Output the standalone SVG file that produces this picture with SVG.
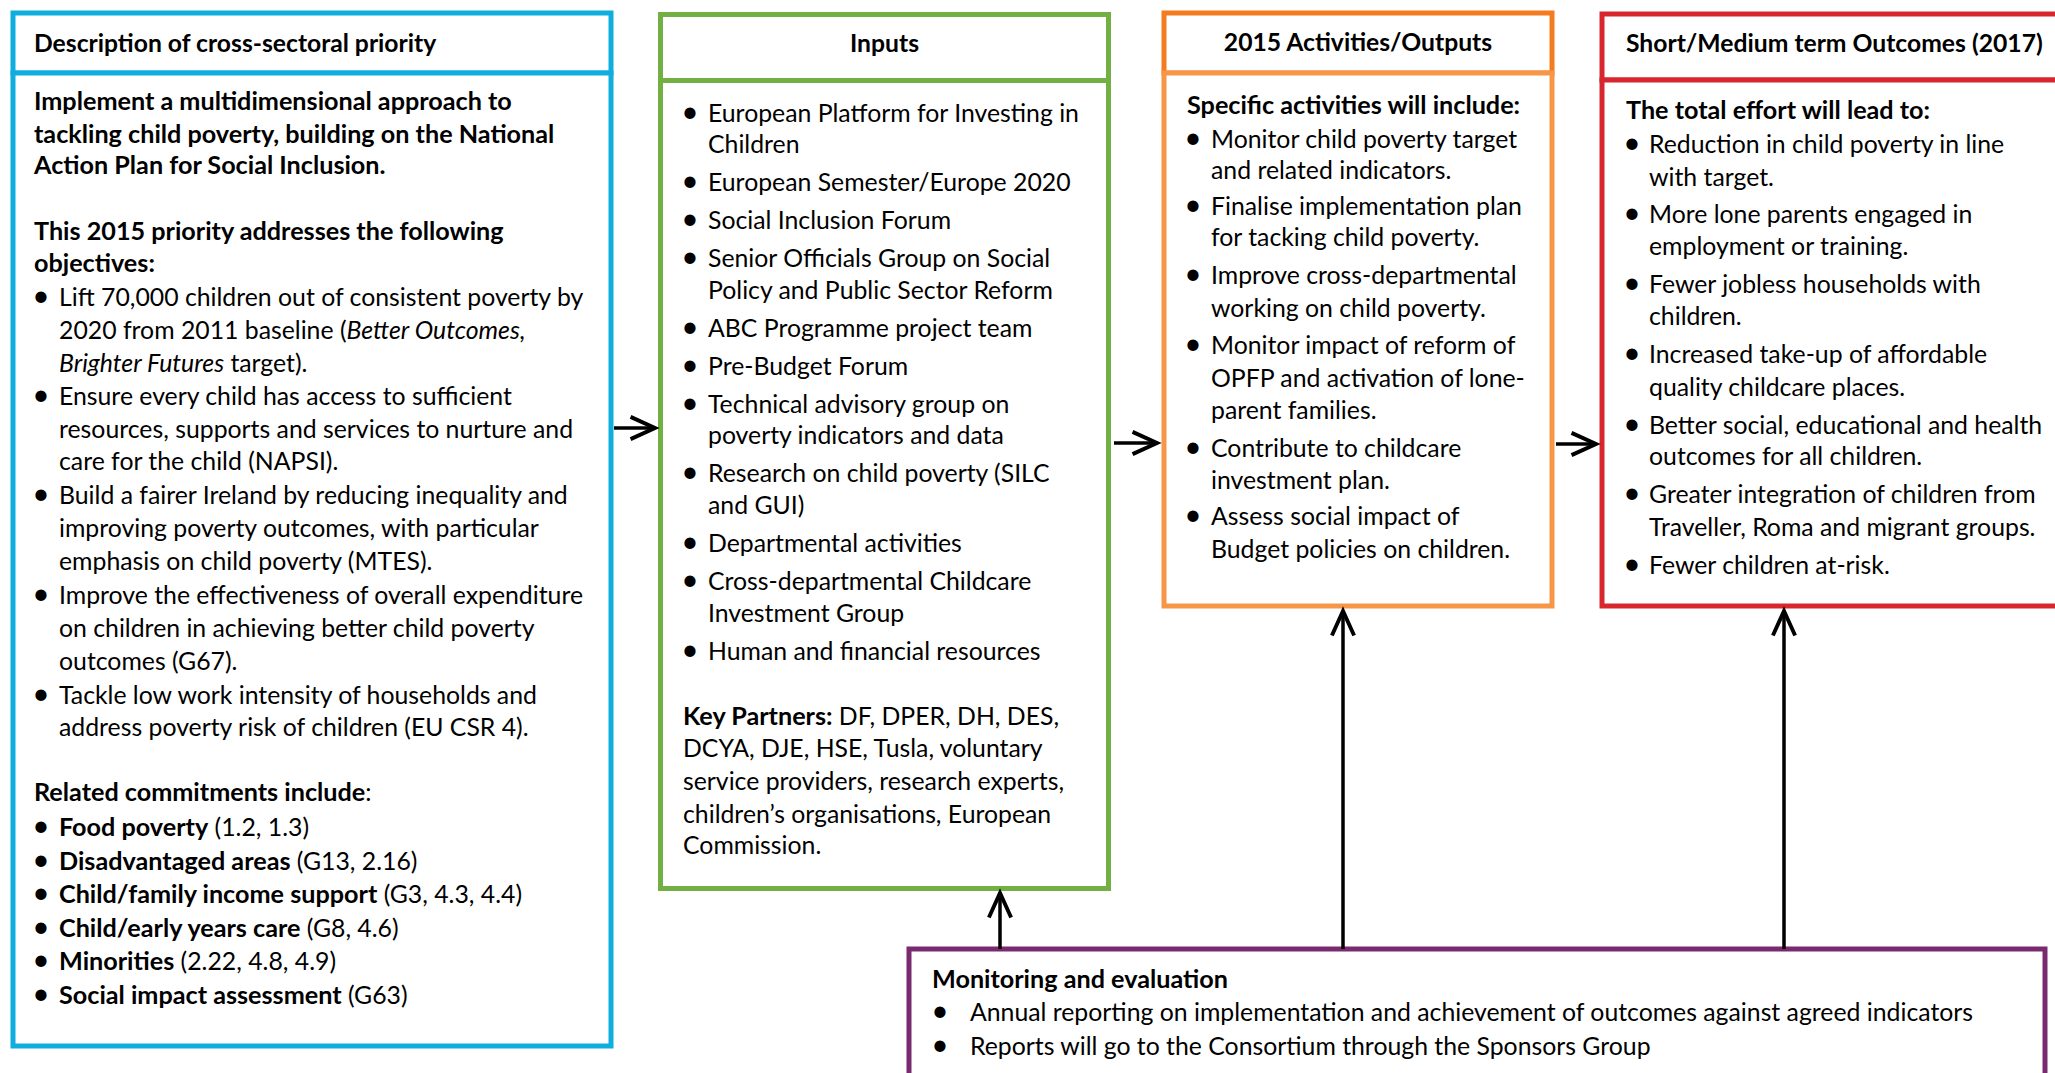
<svg xmlns="http://www.w3.org/2000/svg" width="2055" height="1073" viewBox="0 0 2055 1073">
<defs>
<style>
text{font-family:Lato,"Liberation Sans",sans-serif;font-size:24.8px;fill:#000}
.b{font-weight:bold;font-size:25.2px}
.h{font-weight:bold;font-size:24.7px}
.i{font-style:italic}
.m{text-anchor:middle}
.d{font-size:30px;text-anchor:middle}
.box{fill:#fff;stroke-width:5}
.conn{stroke:#000;stroke-width:3.5;fill:none}
</style>
<marker id="arr" markerUnits="userSpaceOnUse" markerWidth="40" markerHeight="40" viewBox="-30 -15 36 30" refX="0" refY="0" orient="auto" overflow="visible">
<path d="M-22,-10 L0,0 L-22,10" fill="none" stroke="#000" stroke-width="3.5"/>
</marker>
</defs>
<rect width="2055" height="1073" fill="#fff"/>

<g id="node-description">
<rect class="box" x="13" y="13" width="598" height="60" stroke="#10AEDF"/>
<rect class="box" x="13" y="73" width="598" height="973" stroke="#10AEDF"/>
<text class="h" x="34" y="52">Description of cross-sectoral priority</text>
<text class="b" x="34" y="110">Implement a multidimensional approach to</text>
<text class="b" x="34" y="143">tackling child poverty, building on the National</text>
<text class="b" x="34" y="174">Action Plan for Social Inclusion.</text>
<text class="b" x="34" y="240">This 2015 priority addresses the following</text>
<text class="b" x="34" y="272">objectives:</text>
<text class="d" x="41" y="306">•</text><text x="59" y="306">Lift 70,000 children out of consistent poverty by</text>
<text x="59" y="339">2020 from 2011 baseline (<tspan class="i">Better Outcomes,</tspan></text>
<text x="59" y="372"><tspan class="i">Brighter Futures</tspan> target).</text>
<text class="d" x="41" y="405">•</text><text x="59" y="405">Ensure every child has access to sufficient</text>
<text x="59" y="438">resources, supports and services to nurture and</text>
<text x="59" y="470">care for the child (NAPSI).</text>
<text class="d" x="41" y="504">•</text><text x="59" y="504">Build a fairer Ireland by reducing inequality and</text>
<text x="59" y="537">improving poverty outcomes, with particular</text>
<text x="59" y="570">emphasis on child poverty (MTES).</text>
<text class="d" x="41" y="604">•</text><text x="59" y="604">Improve the effectiveness of overall expenditure</text>
<text x="59" y="637">on children in achieving better child poverty</text>
<text x="59" y="670">outcomes (G67).</text>
<text class="d" x="41" y="704">•</text><text x="59" y="704">Tackle low work intensity of households and</text>
<text x="59" y="736">address poverty risk of children (EU CSR 4).</text>
<text x="34" y="801"><tspan class="b">Related commitments include</tspan>:</text>
<text class="d" x="41" y="836">•</text><text x="59" y="836"><tspan class="b">Food poverty</tspan> (1.2, 1.3)</text>
<text class="d" x="41" y="870">•</text><text x="59" y="870"><tspan class="b">Disadvantaged areas</tspan> (G13, 2.16)</text>
<text class="d" x="41" y="903">•</text><text x="59" y="903"><tspan class="b">Child/family income support</tspan> (G3, 4.3, 4.4)</text>
<text class="d" x="41" y="937">•</text><text x="59" y="937"><tspan class="b">Child/early years care</tspan> (G8, 4.6)</text>
<text class="d" x="41" y="970">•</text><text x="59" y="970"><tspan class="b">Minorities</tspan> (2.22, 4.8, 4.9)</text>
<text class="d" x="41" y="1004">•</text><text x="59" y="1004"><tspan class="b">Social impact assessment</tspan> (G63)</text>
</g>

<g id="node-inputs">
<rect class="box" x="660.5" y="14.5" width="448" height="66" stroke="#72B043"/>
<rect class="box" x="660.5" y="80.5" width="448" height="808" stroke="#72B043"/>
<text class="h m" x="884.5" y="52">Inputs</text>
<text class="d" x="690" y="122">•</text><text x="708" y="122">European Platform for Investing in</text>
<text x="708" y="153">Children</text>
<text class="d" x="690" y="191">•</text><text x="708" y="191">European Semester/Europe 2020</text>
<text class="d" x="690" y="229">•</text><text x="708" y="229">Social Inclusion Forum</text>
<text class="d" x="690" y="267">•</text><text x="708" y="267">Senior Officials Group on Social</text>
<text x="708" y="299">Policy and Public Sector Reform</text>
<text class="d" x="690" y="337">•</text><text x="708" y="337">ABC Programme project team</text>
<text class="d" x="690" y="375">•</text><text x="708" y="375">Pre-Budget Forum</text>
<text class="d" x="690" y="413">•</text><text x="708" y="413">Technical advisory group on</text>
<text x="708" y="444">poverty indicators and data</text>
<text class="d" x="690" y="482">•</text><text x="708" y="482">Research on child poverty (SILC</text>
<text x="708" y="514">and GUI)</text>
<text class="d" x="690" y="552">•</text><text x="708" y="552">Departmental activities</text>
<text class="d" x="690" y="590">•</text><text x="708" y="590">Cross-departmental Childcare</text>
<text x="708" y="622">Investment Group</text>
<text class="d" x="690" y="660">•</text><text x="708" y="660">Human and financial resources</text>
<text x="683" y="725"><tspan class="b">Key Partners:</tspan> DF, DPER, DH, DES,</text>
<text x="683" y="757">DCYA, DJE, HSE, Tusla, voluntary</text>
<text x="683" y="790">service providers, research experts,</text>
<text x="683" y="823">children’s organisations, European</text>
<text x="683" y="854">Commission.</text>
</g>

<g id="node-activities">
<rect class="box" x="1164" y="13" width="388" height="60" stroke="#F47B20"/>
<rect class="box" x="1164" y="73" width="388" height="533" stroke="#F79646"/>
<text class="h m" x="1358" y="51">2015 Activities/Outputs</text>
<text class="b" x="1187" y="114">Specific activities will include:</text>
<text class="d" x="1193" y="148">•</text><text x="1211" y="148">Monitor child poverty target</text>
<text x="1211" y="179">and related indicators.</text>
<text class="d" x="1193" y="215">•</text><text x="1211" y="215">Finalise implementation plan</text>
<text x="1211" y="246">for tacking child poverty.</text>
<text class="d" x="1193" y="284">•</text><text x="1211" y="284">Improve cross-departmental</text>
<text x="1211" y="317">working on child poverty.</text>
<text class="d" x="1193" y="354">•</text><text x="1211" y="354">Monitor impact of reform of</text>
<text x="1211" y="387">OPFP and activation of lone-</text>
<text x="1211" y="419">parent families.</text>
<text class="d" x="1193" y="457">•</text><text x="1211" y="457">Contribute to childcare</text>
<text x="1211" y="489">investment plan.</text>
<text class="d" x="1193" y="525">•</text><text x="1211" y="525">Assess social impact of</text>
<text x="1211" y="558">Budget policies on children.</text>
</g>

<g id="node-outcomes">
<rect class="box" x="1602" y="14" width="467" height="66" stroke="#D8262F"/>
<rect class="box" x="1602" y="80" width="467" height="526" stroke="#D8262F"/>
<text class="h" x="1626" y="52">Short/Medium term Outcomes (2017)</text>
<text class="b" x="1626" y="119">The total effort will lead to:</text>
<text class="d" x="1632" y="153">•</text><text x="1649" y="153">Reduction in child poverty in line</text>
<text x="1649" y="186">with target.</text>
<text class="d" x="1632" y="223">•</text><text x="1649" y="223">More lone parents engaged in</text>
<text x="1649" y="255">employment or training.</text>
<text class="d" x="1632" y="293">•</text><text x="1649" y="293">Fewer jobless households with</text>
<text x="1649" y="325">children.</text>
<text class="d" x="1632" y="363">•</text><text x="1649" y="363">Increased take-up of affordable</text>
<text x="1649" y="396">quality childcare places.</text>
<text class="d" x="1632" y="434">•</text><text x="1649" y="434">Better social, educational and health</text>
<text x="1649" y="465">outcomes for all children.</text>
<text class="d" x="1632" y="503">•</text><text x="1649" y="503">Greater integration of children from</text>
<text x="1649" y="536">Traveller, Roma and migrant groups.</text>
<text class="d" x="1632" y="574">•</text><text x="1649" y="574">Fewer children at-risk.</text>
</g>

<g id="node-monitoring">
<rect class="box" x="909" y="949" width="1136" height="200" stroke="#7A2B6F"/>
<text class="b" x="932" y="988">Monitoring and evaluation</text>
<text class="d" x="940" y="1021">•</text><text x="970" y="1021">Annual reporting on implementation and achievement of outcomes against agreed indicators</text>
<text class="d" x="940" y="1055">•</text><text x="970" y="1055">Reports will go to the Consortium through the Sponsors Group</text>
</g>

<g id="connectors">
<line class="conn" x1="614" y1="428" x2="655" y2="428" marker-end="url(#arr)"/>
<line class="conn" x1="1114" y1="443" x2="1157" y2="443" marker-end="url(#arr)"/>
<line class="conn" x1="1556" y1="444" x2="1596" y2="444" marker-end="url(#arr)"/>
<line class="conn" x1="1000" y1="949" x2="1000" y2="893" marker-end="url(#arr)"/>
<line class="conn" x1="1343" y1="949" x2="1343" y2="611" marker-end="url(#arr)"/>
<line class="conn" x1="1784" y1="949" x2="1784" y2="611" marker-end="url(#arr)"/>
</g>
</svg>
